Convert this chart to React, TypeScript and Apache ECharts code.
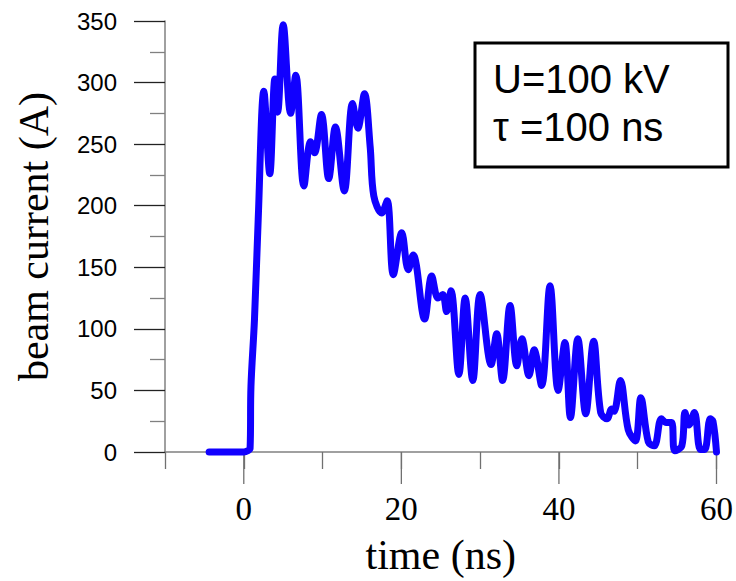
import React, { useEffect, useRef } from "react";
import * as echarts from "echarts";

// time (ns) and beam current (A)
const timeNs = [
  -4.4, -2, 0, 0.5, 0.8, 0.91, 1.36, 1.83, 2.55, 3.3, 3.95, 4.3, 5.0, 5.95, 6.6,
  7.63, 8.47, 8.98, 9.86, 10.78, 11.63, 12.76, 13.8, 14.48, 15.32, 16.04, 16.5,
  17.5, 18.2, 18.98, 20.05, 20.87, 21.5, 22.95, 23.85, 24.65, 25.25, 25.75, 26.3,
  27.3, 28.1, 29.07, 30.0, 31.4, 32.1, 32.85, 33.8, 34.66, 35.3, 36.2, 36.85,
  37.8, 38.87, 39.9, 40.76, 41.46, 42.4, 43.4, 44.4, 45.3, 46.1, 46.7, 47.0,
  47.8, 48.8, 49.7, 50.4, 51.35, 52.1, 53.0, 53.6, 54.3, 54.7, 55.6, 56.0, 56.5,
  57.2, 57.95, 58.5, 59.2, 59.55, 60.0,
];
const currentA = [
  0, 0, 0, 1, 3, 53, 108, 189, 293, 226, 303, 276, 347, 275, 306,
  216, 252, 243, 274, 222, 264, 212, 283, 263, 291, 248, 208,
  194, 204, 144, 178, 148, 160, 108, 143, 125, 128, 114, 131,
  63, 125, 58, 128, 71, 96, 58, 119, 70, 92, 62, 83,
  54, 135, 50, 89, 28, 92, 31, 90, 32, 27, 35, 33,
  58, 18, 9, 44, 8, 5, 27, 24, 24, 1, 5, 32, 22,
  32, 2, 2, 27, 25, 0,
];
const majorTicksX = [0, 20, 40, 60];
const xLabelValues = [0, 20, 40, 60];
const annotationLines = ["U=100 kV", "\u03c4 =100 ns"];

export default function App() {
  const ref = useRef<HTMLDivElement>(null);
  useEffect(() => {
    document.body.style.margin = "0";
    if (!ref.current) return;
    const chart = echarts.init(ref.current, null, { renderer: "svg" });
    const lineData = timeNs.map((t, i) => [t, currentA[i]]);
    chart.setOption({
      animation: false,
      backgroundColor: "#ffffff",
      grid: { left: 165, right: 15, top: 21, bottom: 128, containLabel: false },
      xAxis: {
        type: "value",
        min: -10,
        max: 60,
        interval: 10,
        splitLine: { show: false },
        axisLine: { show: true, onZero: false, lineStyle: { color: "#808080", width: 1.5 } },
        axisTick: { show: true, length: 17, lineStyle: { color: "#707070", width: 1.3 } },
        axisLabel: {
          margin: 40,
          fontFamily: "Liberation Serif",
          fontSize: 33,
          color: "#000",
          formatter: (v: number) => (xLabelValues.includes(v) ? String(v) : ""),
        },
        name: "time (ns)",
        nameLocation: "middle",
        nameGap: 82,
        nameTextStyle: { fontFamily: "Liberation Serif", fontSize: 42, color: "#000" },
      },
      yAxis: {
        type: "value",
        min: 0,
        max: 350,
        interval: 50,
        splitLine: { show: false },
        axisLine: { show: true, onZero: false, lineStyle: { color: "#808080", width: 1.5 } },
        axisTick: { show: true, length: 31, lineStyle: { color: "#222", width: 1.3 } },
        minorTick: { show: true, splitNumber: 2, length: 15, lineStyle: { color: "#808080", width: 1.3 } },
        minorSplitLine: { show: false },
        axisLabel: {
          margin: 48,
          fontFamily: "Liberation Sans",
          fontSize: 24,
          color: "#000",
        },
        name: "beam current (A)",
        nameLocation: "middle",
        nameGap: 110,
        nameTextStyle: { fontFamily: "Liberation Serif", fontSize: 42, color: "#000" },
      },
      series: [
        {
          type: "custom",
          clip: false,
          silent: true,
          data: majorTicksX.map((v) => [v]),
          renderItem: (params: any, api: any) => {
            const p = api.coord([api.value(0), 0]);
            return {
              type: "line",
              shape: { x1: p[0], y1: p[1], x2: p[0], y2: p[1] + 32 },
              style: { stroke: "#707070", lineWidth: 1.3 },
            };
          },
        },
        {
          type: "line",
          data: lineData,
          showSymbol: false,
          smooth: 0.35,
          clip: false,
          z: 5,
          lineStyle: { color: "#1100ff", width: 7, cap: "round", join: "round" },
        },
      ],
      graphic: [
        {
          type: "rect",
          shape: { x: 475, y: 43, width: 253, height: 124 },
          style: { fill: "#fff", stroke: "#000", lineWidth: 3 },
          z: 10,
        },
        {
          type: "text",
          x: 493,
          y: 79,
          z: 11,
          style: {
            text: annotationLines[0],
            fontFamily: "Liberation Sans",
            fontSize: 40,
            fill: "#000",
            verticalAlign: "middle",
          },
        },
        {
          type: "text",
          x: 493,
          y: 127,
          z: 11,
          style: {
            text: annotationLines[1],
            fontFamily: "Liberation Sans",
            fontSize: 40,
            fill: "#000",
            verticalAlign: "middle",
          },
        },
      ],
    });
    return () => chart.dispose();
  }, []);
  return <div ref={ref} style={{ width: 736, height: 581 }} />;
}
